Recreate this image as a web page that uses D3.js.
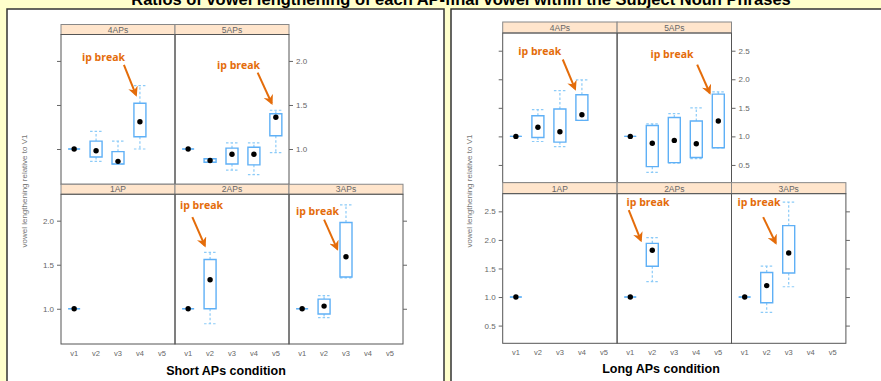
<!DOCTYPE html>
<html>
<head>
<meta charset="utf-8">
<script src="https://cdn.jsdelivr.net/npm/d3@7"></script>
<style>
  body { margin: 0; background: #ffffcc; }
  svg { display: block; font-family: "Liberation Sans", Arial, sans-serif; }
</style>
</head>
<body>
<div id="root"></div>
<script>
const title = "Ratios of vowel lengthening of each AP-final vowel within the Subject Noun Phrases";
const yTitle = "vowel lengthening relative to V1";
const categories = ["v1", "v2", "v3", "v4", "v5"];
const topPanels = ["4APs", "5APs"];
const bottomPanels = ["1AP", "2APs", "3APs"];

// each box: [lower whisker, q1, median, q3, upper whisker], one per vowel from v1
const short4APs = [[1, 1, 1, 1, 1], [0.86, 0.91, 0.98, 1.09, 1.2], [0.83, 0.83, 0.86, 0.97, 1.09], [1.0, 1.14, 1.31, 1.52, 1.72]];
const short5APs = [[1, 1, 1, 1, 1], [0.85, 0.85, 0.87, 0.89, 0.89], [0.76, 0.83, 0.94, 1.01, 1.07], [0.71, 0.82, 0.94, 1.02, 1.07], [0.96, 1.15, 1.36, 1.4, 1.44]];
const short1AP = [[1, 1, 1, 1, 1]];
const short2APs = [[1, 1, 1, 1, 1], [0.83, 1.0, 1.33, 1.56, 1.64]];
const short3APs = [[1, 1, 1, 1, 1], [0.9, 0.94, 1.03, 1.11, 1.15], [1.35, 1.36, 1.59, 1.98, 2.18]];

const long4APs = [[1, 1, 1, 1, 1], [0.91, 0.98, 1.16, 1.36, 1.47], [0.82, 0.9, 1.08, 1.48, 1.8], [1.28, 1.28, 1.38, 1.73, 1.99]];
const long5APs = [[1, 1, 1, 1, 1], [0.37, 0.47, 0.88, 1.19, 1.22], [0.53, 0.54, 0.93, 1.33, 1.4], [0.61, 0.63, 0.87, 1.27, 1.5], [0.8, 0.8, 1.27, 1.74, 1.78]];
const long1AP = [[1, 1, 1, 1, 1]];
const long2APs = [[1, 1, 1, 1, 1], [1.27, 1.54, 1.82, 1.94, 2.04]];
const long3APs = [[1, 1, 1, 1, 1], [0.73, 0.9, 1.2, 1.43, 1.54], [1.18, 1.42, 1.77, 2.25, 2.66]];

const shortTicks = [1.0, 1.5, 2.0];
const longTicks = [0.5, 1.0, 1.5, 2.0, 2.5];

// "ip break" notes in data units: panel, text (vowel index, value), arrow from, arrow to
const shortNotes = [
  ["4APs", 0.36, 2.0, 2.27, 1.955, 2.82, 1.614],
  ["5APs", 1.32, 1.91, 3.17, 1.867, 3.81, 1.52],
  ["2APs", -0.37, 2.133, 0.19, 2.04, 0.76, 1.716],
  ["3APs", -0.28, 2.065, 1.0, 2.011, 1.6, 1.678]
];
const longNotes = [
  ["4APs", 0.11, 2.433, 2.13, 2.346, 2.69, 1.83],
  ["5APs", 0.92, 2.375, 3.04, 2.258, 3.61, 1.76],
  ["2APs", -0.17, 2.59, -0.07, 2.52, 0.48, 1.99],
  ["3APs", -0.33, 2.59, 0.84, 2.4, 1.41, 1.947]
];

const W = 881, H = 381;
const orange = "#e46c0a";

const svg = d3.select("#root").append("svg")
  .attr("width", W)
  .attr("height", H);

svg.append("defs").append("marker")
  .attr("id", "arrow")
  .attr("viewBox", "0 0 10 10")
  .attr("refX", 8).attr("refY", 5)
  .attr("markerWidth", 5).attr("markerHeight", 5)
  .attr("orient", "auto")
  .append("path")
  .attr("d", "M0,0 L10,5 L0,10 L3,5 z")
  .attr("fill", orange);

// white frames on the yellow slide
svg.append("rect").attr("x", 7).attr("y", 9).attr("width", 437).attr("height", 390)
  .attr("fill", "#fff").attr("stroke", "#333").attr("stroke-width", 1.5);
svg.append("rect").attr("x", 451).attr("y", 9).attr("width", 440).attr("height", 390)
  .attr("fill", "#fff").attr("stroke", "#333").attr("stroke-width", 1.5);

svg.append("text")
  .attr("x", 461).attr("y", 4.5)
  .attr("text-anchor", "middle")
  .attr("font-weight", "bold")
  .attr("font-size", 16.5)
  .text(title);

function drawChart(opt) {
  const g = svg.append("g");
  const colW = opt.colW;
  const rowH = (opt.bottom - opt.top) / 2;
  const panelH = rowH - opt.stripH;

  const x = d3.scalePoint().domain(categories).range([0, colW]).padding(0.6);
  const xi = (i) => x(categories[0]) + i * x.step();
  const y = d3.scaleLinear().domain(opt.yDomain).range([panelH, 0]);

  const panels = [];
  topPanels.forEach((name, c) => panels.push({ name, col: c, row: 0 }));
  bottomPanels.forEach((name, c) => panels.push({ name, col: c, row: 1 }));

  panels.forEach((p) => {
    const px = opt.left + p.col * colW;
    const py = opt.top + p.row * rowH;
    const pg = g.append("g").attr("transform", `translate(${px},${py})`);

    // strip
    pg.append("rect")
      .attr("width", colW).attr("height", opt.stripH)
      .attr("fill", "#ffe5cc").attr("stroke", "#888");
    pg.append("text")
      .attr("x", colW / 2).attr("y", opt.stripH - 2)
      .attr("text-anchor", "middle")
      .attr("font-size", 8.5).attr("fill", "#666")
      .text(p.name);

    const body = pg.append("g").attr("transform", `translate(0,${opt.stripH})`);
    body.append("rect")
      .attr("width", colW).attr("height", panelH)
      .attr("fill", "none").attr("stroke", "#555");

    // boxes
    const boxes = opt.data[p.name].map((s, i) => ({ cat: categories[i], s }));
    const bw = 6;
    const bx = body.selectAll(".box").data(boxes).join("g").attr("class", "box")
      .attr("transform", (d) => `translate(${x(d.cat)},0)`);
    bx.append("path")
      .attr("d", (d) => `M0,${y(d.s[3])}V${y(d.s[4])}M0,${y(d.s[1])}V${y(d.s[0])}` +
        `M${-bw},${y(d.s[4])}H${bw}M${-bw},${y(d.s[0])}H${bw}`)
      .attr("fill", "none")
      .attr("stroke", "#8ccbf8").attr("stroke-width", 1.2)
      .attr("stroke-dasharray", "2.5,2");
    bx.append("path")
      .attr("d", (d) => `M${-bw},${y(d.s[1])}H${bw}V${y(d.s[3])}H${-bw}Z`)
      .attr("fill", "none")
      .attr("stroke", "#5fb0f6").attr("stroke-width", 1.4);
    bx.append("circle")
      .attr("cy", (d) => y(d.s[2]))
      .attr("r", 2.7)
      .attr("fill", "#000");

    // y axes, alternating labels like lattice
    if (p.row === 0 && p.col === 0) {
      body.append("g").call(d3.axisLeft(y).tickValues(opt.ticks).tickSize(4).tickFormat(""));
    }
    if (p.row === 0 && p.col === topPanels.length - 1) {
      body.append("g").attr("transform", `translate(${colW},0)`)
        .call(d3.axisRight(y).tickValues(opt.ticks).tickSize(4).tickPadding(3).tickFormat(d3.format(".1f")));
    }
    if (p.row === 1 && p.col === 0) {
      body.append("g")
        .call(d3.axisLeft(y).tickValues(opt.ticks).tickSize(4).tickPadding(3).tickFormat(d3.format(".1f")));
    }
    if (p.row === 1 && p.col === bottomPanels.length - 1) {
      body.append("g").attr("transform", `translate(${colW},0)`)
        .call(d3.axisRight(y).tickValues(opt.ticks).tickSize(4).tickFormat(""));
    }
    if (p.row === 1) {
      body.selectAll(".xl").data(categories).join("text")
        .attr("class", "xl")
        .attr("x", (d) => x(d)).attr("y", panelH + 12)
        .attr("text-anchor", "middle")
        .attr("font-size", 7.5).attr("fill", "#666")
        .text((d) => d);
    }

    // annotations
    opt.notes.filter((n) => n[0] === p.name).forEach((n) => {
      body.append("text")
        .attr("x", xi(n[1])).attr("y", y(n[2]))
        .attr("font-size", 10.5).attr("font-weight", "bold")
        .attr("font-family", "'Open Sans', Lato, sans-serif")
        .attr("fill", orange)
        .text("ip break");
      body.append("line")
        .attr("x1", xi(n[3])).attr("y1", y(n[4]))
        .attr("x2", xi(n[5])).attr("y2", y(n[6]))
        .attr("stroke", orange).attr("stroke-width", 2)
        .attr("marker-end", "url(#arrow)");
    });
  });

  g.selectAll(".tick line").attr("stroke", "#666");
  g.selectAll(".tick text").attr("font-size", 8).attr("fill", "#666").attr("font-family", "inherit");
  g.selectAll(".domain").remove();

  g.append("text")
    .attr("transform", `translate(${opt.yLabelX},${opt.yLabelY}) rotate(-90)`)
    .attr("text-anchor", "middle")
    .attr("font-size", 8).attr("fill", "#777")
    .text(yTitle);

  g.append("text")
    .attr("x", opt.xLabelX).attr("y", opt.xLabelY)
    .attr("text-anchor", "middle")
    .attr("font-weight", "bold").attr("font-size", 12.5)
    .text(opt.xLabel);
}

drawChart({
  left: 61, colW: 114, top: 24.5, bottom: 344, stripH: 10,
  yDomain: [0.6, 2.3], ticks: shortTicks, notes: shortNotes,
  data: { "4APs": short4APs, "5APs": short5APs, "1AP": short1AP, "2APs": short2APs, "3APs": short3APs },
  yLabelX: 27, yLabelY: 191, xLabel: "Short APs condition", xLabelX: 226, xLabelY: 375
});

drawChart({
  left: 502.7, colW: 114.4, top: 22, bottom: 343.3, stripH: 11,
  yDomain: [0.19, 2.81], ticks: longTicks, notes: longNotes,
  data: { "4APs": long4APs, "5APs": long5APs, "1AP": long1AP, "2APs": long2APs, "3APs": long3APs },
  yLabelX: 472, yLabelY: 191, xLabel: "Long APs condition", xLabelX: 661, xLabelY: 372.5
});
</script>
</body>
</html>
